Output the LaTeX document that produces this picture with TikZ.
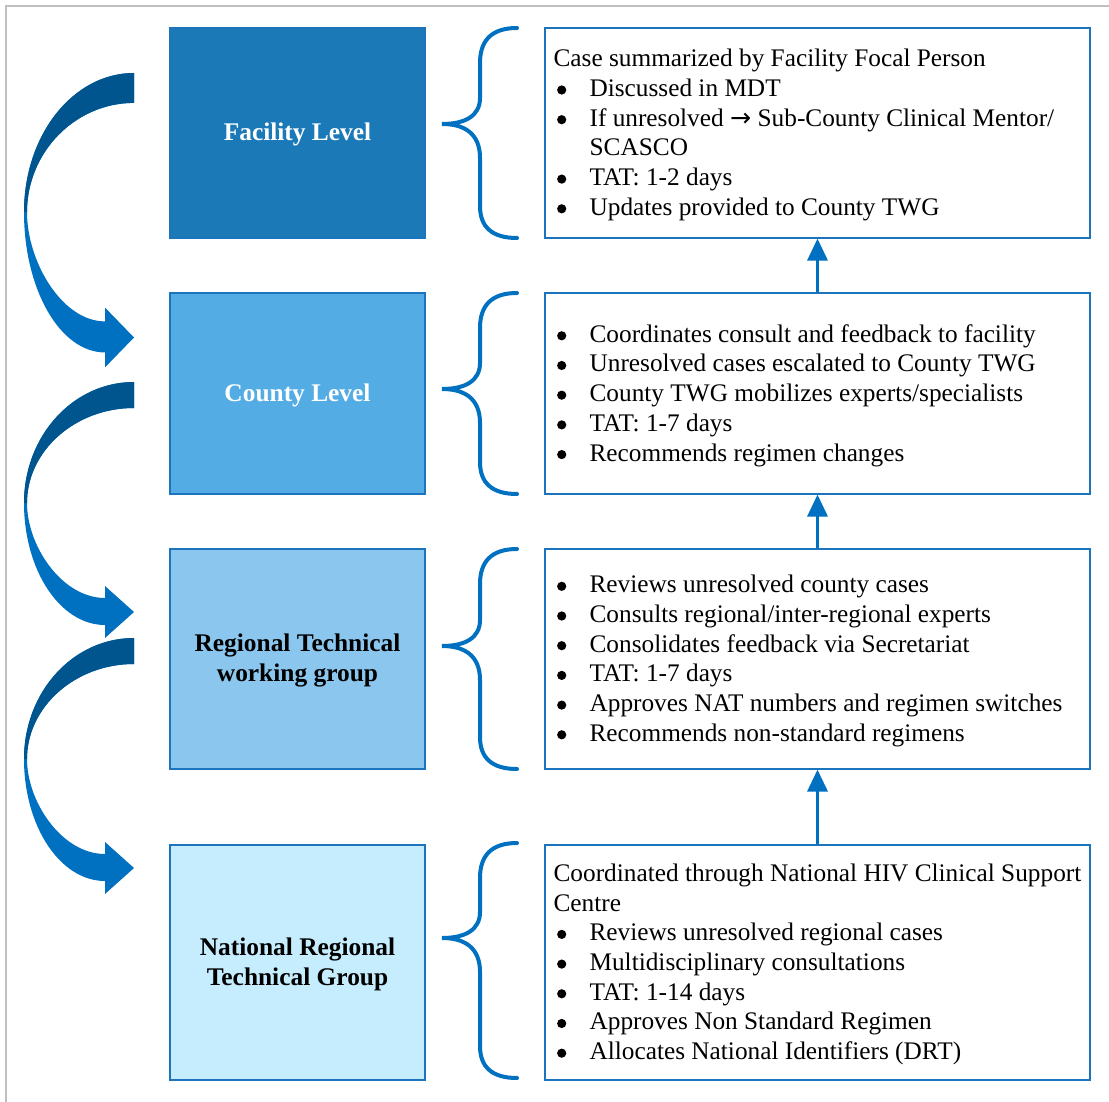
\documentclass[tikz,border=0pt]{standalone}
\usepackage{fontspec}
\setmainfont{Liberation Serif}
\newfontfamily\arrowfont{DejaVu Sans}
\usetikzlibrary{arrows.meta}
\definecolor{cfac}{HTML}{1B79B7}
\definecolor{ccty}{HTML}{53ACE4}
\definecolor{creg}{HTML}{8BC6EE}
\definecolor{cnat}{HTML}{C5EDFD}
\definecolor{edgeblue}{HTML}{1C75BC}
\definecolor{arrowlight}{HTML}{0070C0}
\definecolor{arrowdark}{HTML}{00558F}
\definecolor{framegray}{HTML}{C0C0C0}
\newcommand{\bul}{\hspace*{3.5pt}\makebox[32.5pt][l]{\tikz[baseline={(0,-6.5pt)}]\fill (0,0) circle (4.6pt);}}
\newcommand{\lvlbrace}[3]{%
  \draw[brc] (517,#1) .. controls (492,#1) and (480,{#1+12}) .. (480,{#1+35})
    -- (480,{#3-26}) .. controls (480,{#3-8}) and (465,#3) .. (442,#3)
    .. controls (465,#3) and (480,{#3+10}) .. (480,{#3+34})
    -- (480,{#2-32}) .. controls (480,{#2-11}) and (492,#2) .. (517,#2);}
\begin{document}
\begin{tikzpicture}[x=1pt,y=-1pt,
  lvl/.style={draw=edgeblue, line width=1.2pt, minimum width=255pt, inner sep=0pt},
  lvltext/.style={inner sep=0pt, font=\fontsize{25.4}{30}\selectfont\bfseries, align=center},
  info/.style={draw=edgeblue, line width=1.2pt, minimum width=545pt, inner sep=0pt},
  infotext/.style={anchor=west, inner sep=0pt, align=left, font=\fontsize{25.3}{29.7}\selectfont},
  brc/.style={line width=4pt, line cap=round, draw=arrowlight},
  up/.style={draw=arrowlight, line width=3.5pt, -{Triangle[length=22pt,width=20pt]}},
  bendarrow/.pic={
    \fill[arrowlight] (134,0) .. controls (73,0) and (24,54) .. (24,121)
      .. controls (24,188) and (60,243) .. (105,243) -- (105,256) -- (134,230)
      -- (105,204) -- (105,216) .. controls (62,216) and (27,164) .. (27,121)
      .. controls (27,69) and (75,26) .. (134,26) -- cycle;
    \begin{scope}
      \clip (0,-5) rectangle (140,121);
      \fill[arrowdark] (134,0) .. controls (73,0) and (24,54) .. (24,121)
        -- (27,121) .. controls (27,69) and (75,26) .. (134,26) -- cycle;
    \end{scope}
  }
]
\useasboundingbox (0,0) rectangle (1109,1102);
\fill[white] (0,0) rectangle (1109,1102);
\draw[framegray, line width=2pt] (6,1103) -- (6,6) -- (1110,6);

% left level boxes
\node[lvl, fill=cfac, minimum height=210pt] (l1) at (297.5,133) {};
\node[lvl, fill=ccty, minimum height=201pt] (l2) at (297.5,393.5) {};
\node[lvl, fill=creg, minimum height=220pt] (l3) at (297.5,659) {};
\node[lvl, fill=cnat, minimum height=235pt] (l4) at (297.5,962.5) {};
\node[lvltext, text=white] (lt1) at ([yshift=-1.5pt]l1.center) {Facility Level};
\node[lvltext, text=white] (lt2) at ([yshift=-1.5pt]l2.center) {County Level};
\node[lvltext] (lt3) at ([yshift=-1.5pt]l3.center) {Regional Technical\\working group};
\node[lvltext] (lt4) at ([yshift=-1.5pt]l4.center) {National Regional\\Technical Group};

% right info boxes
\node[info, minimum height=210pt] (r1) at (817.5,133) {};
\node[info, minimum height=201pt] (r2) at (817.5,393.5) {};
\node[info, minimum height=220pt] (r3) at (817.5,659) {};
\node[info, minimum height=235pt] (r4) at (817.5,962.5) {};

\node[infotext] (t1) at ([xshift=9pt,yshift=-2pt]r1.west) {Case summarized by Facility Focal Person\\
\bul Discussed in MDT\\
\bul If unresolved {\arrowfont →} Sub-County Clinical Mentor/\\
\hspace*{36pt}SCASCO\\
\bul TAT: 1-2 days\\
\bul Updates provided to County TWG};
\node[infotext] (t2) at ([xshift=9pt,yshift=-2pt]r2.west) {\bul Coordinates consult and feedback to facility\\
\bul Unresolved cases escalated to County TWG\\
\bul County TWG mobilizes experts/specialists\\
\bul TAT: 1-7 days\\
\bul Recommends regimen changes};
\node[infotext] (t3) at ([xshift=9pt,yshift=-2pt]r3.west) {\bul Reviews unresolved county cases\\
\bul Consults regional/inter-regional experts\\
\bul Consolidates feedback via Secretariat\\
\bul TAT: 1-7 days\\
\bul Approves NAT numbers and regimen switches\\
\bul Recommends non-standard regimens};
\node[infotext] (t4) at ([xshift=9pt,yshift=-2pt]r4.west) {Coordinated through National HIV Clinical Support\\
Centre\\
\bul Reviews unresolved regional cases\\
\bul Multidisciplinary consultations\\
\bul TAT: 1-14 days\\
\bul Approves Non Standard Regimen\\
\bul Allocates National Identifiers (DRT)};

% braces
\lvlbrace{28}{238}{124}
\lvlbrace{293}{494}{389}
\lvlbrace{549}{769}{646}
\lvlbrace{843}{1078}{938}

% upward arrows
\draw[up] (r2.north) -- (r1.south);
\draw[up] (r3.north) -- (r2.south);
\draw[up] (r4.north) -- (r3.south);

% curved arrows
\pic[yscale=1.15] at (0,73) {bendarrow};
\pic at (0,382) {bendarrow};
\pic at (0,638) {bendarrow};
\end{tikzpicture}
\end{document}
